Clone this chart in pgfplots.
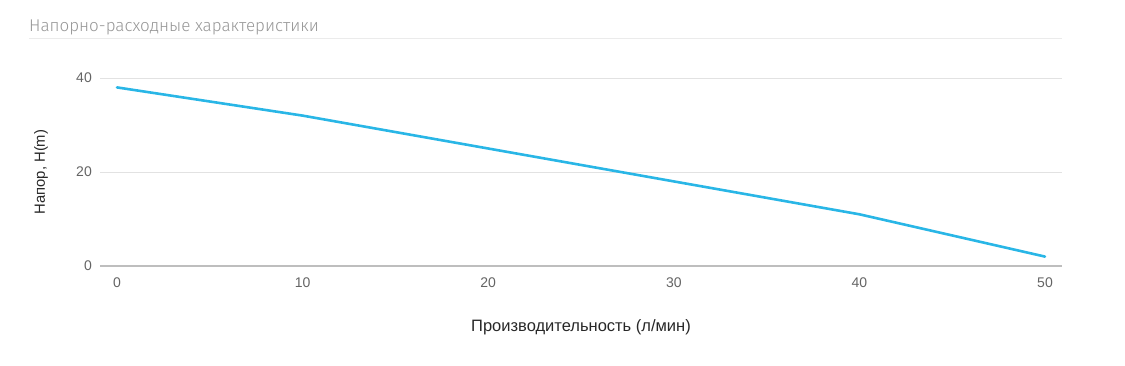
\documentclass[border=0pt]{standalone}
\usepackage{fontspec}
\setmainfont{Liberation Sans}
\newfontfamily\lightfont{Fira Sans Light}
\usepackage{pgfplots}
\pgfplotsset{compat=1.18}
\definecolor{linec}{RGB}{41,182,230}
\definecolor{gridc}{RGB}{226,226,226}
\definecolor{axisc}{RGB}{190,190,190}
\definecolor{tickc}{RGB}{100,100,100}
\definecolor{labc}{RGB}{40,40,40}
\definecolor{titc}{RGB}{150,150,150}
\begin{document}
\begin{tikzpicture}
\path[use as bounding box] (0pt,0pt) rectangle (1125pt,365pt);
\node[anchor=base west, inner sep=0pt, text=titc] at (29pt,333.3pt) {\lightfont\fontsize{17}{20}\selectfont Напорно-расходные характеристики};
\draw[draw=gridc!70, line width=1pt] (29pt,326pt) -- (1062pt,326pt);
\begin{axis}[
  at={(100pt,99pt)}, anchor=south west,
  scale only axis, width=962pt, height=188pt,
  xmin=-0.915, xmax=50.915, ymin=0, ymax=40,
  xtick={0,10,20,30,40,50}, ytick={0,20,40},
  major tick length=0pt,
  axis line style={draw=none},
  ymajorgrids, grid style={draw=gridc, line width=1pt},
  extra y ticks={0}, extra y tick labels={},
  extra y tick style={grid style={draw=axisc, line width=1.6pt}},
  /pgf/number format/assume math mode=true,
  tick label style={font=\fontsize{14}{16}\selectfont, text=tickc},
  xticklabel style={anchor=north, inner sep=0pt, yshift=-12pt},
  yticklabel style={anchor=east, inner sep=0pt, xshift=-8pt},
  xlabel={Производительность (л/мин)},
  ylabel={Напор, H(m)},
  xlabel style={font=\fontsize{16.5}{19}\selectfont, text=labc, at={(axis description cs:0.5,0)}, anchor=center, yshift=-61pt},
  ylabel style={font=\fontsize{14.8}{17}\selectfont, text=labc, at={(axis description cs:0,0.5)}, anchor=center, yshift=59pt},
  clip=false,
]
\addplot[linec, line width=2.6pt, line join=round, line cap=round] coordinates {
  (0,38) (10,32) (20,25) (30,18) (40,11) (50,2)
};
\end{axis}
\end{tikzpicture}
\end{document}
